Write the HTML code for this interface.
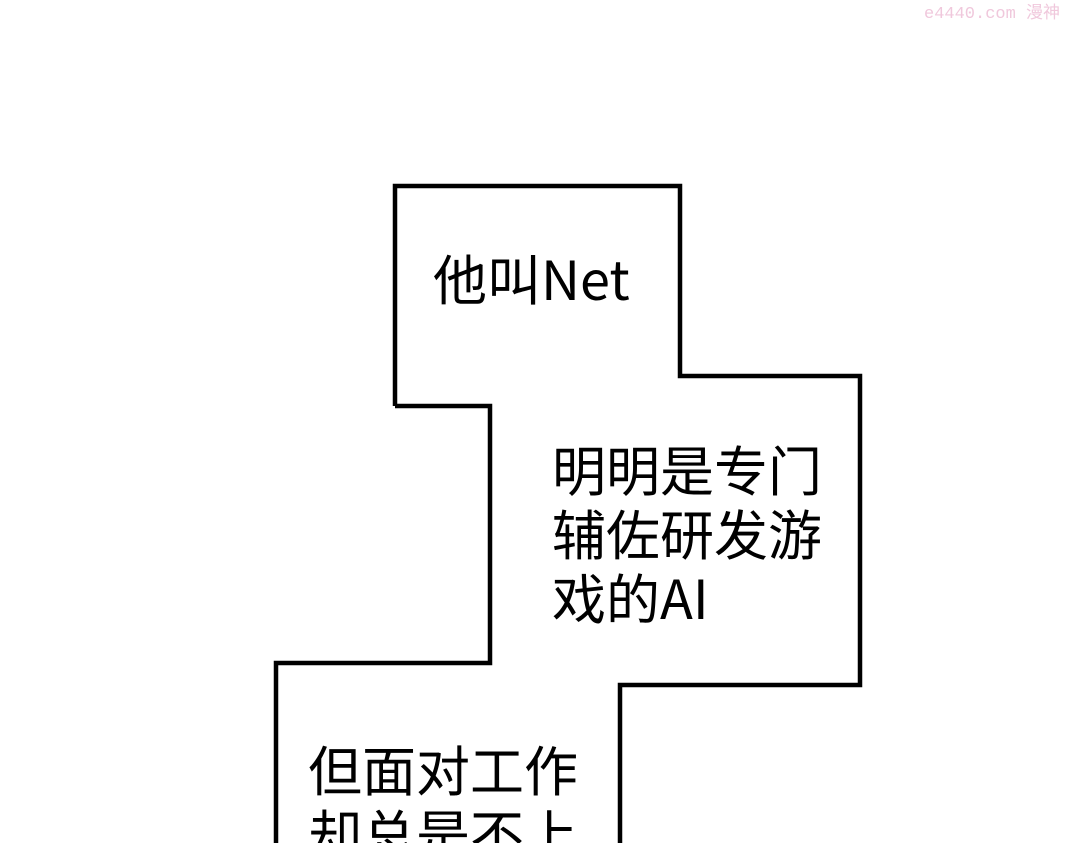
<!DOCTYPE html>
<html><head><meta charset="utf-8"><style>
html,body{margin:0;padding:0;background:#fff;width:1080px;height:843px;overflow:hidden}
svg{display:block}
text.m{font-family:"Noto Sans CJK SC",sans-serif;font-size:54px;fill:#000}
text.w{font-family:"Liberation Mono","Noto Sans CJK SC",monospace;font-size:17px;fill:#f0c8dc}
</style></head><body>
<svg width="1080" height="843" viewBox="0 0 1080 843" xmlns="http://www.w3.org/2000/svg">
<rect width="1080" height="843" fill="#fff"/>
<text class="w" x="924" y="18">e4440.com 漫神</text>
<g fill="none" stroke="#000" stroke-width="4.5" stroke-linejoin="miter">
<polyline points="395,406 395,186 680,186 680,376 860,376 860,685 620,685 620,850"/>
<polyline points="395,406 490,406 490,663 276,663 276,850"/>
</g>
<text class="m" x="433" y="300">他叫Net</text>
<text class="m" x="552" y="491">明明是专门</text>
<text class="m" x="552" y="555">辅佐研发游</text>
<text class="m" x="552" y="619">戏的AI</text>
<text class="m" x="308" y="791">但面对工作</text>
<text class="m" x="308" y="855">却总是不上</text>
</svg>
</body></html>
